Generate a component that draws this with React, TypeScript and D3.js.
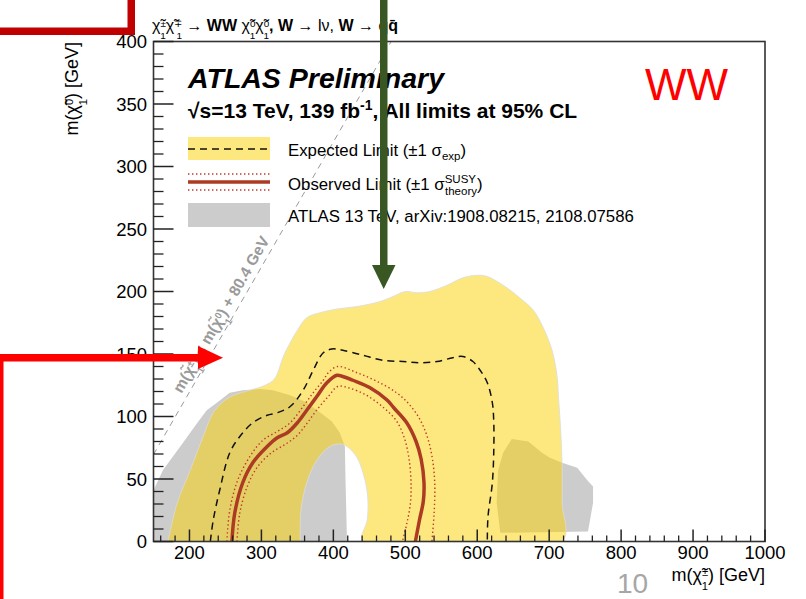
import React from 'react'
import * as d3 from 'd3'

const width = 806
const height = 599
const frame = { left: 153.5, right: 765, top: 41.5, bottom: 541.5 }
const font = 'Liberation Sans, Arial, Helvetica, sans-serif'

// points are [m(chargino), m(neutralino)] in GeV
const expBandOuter: [number, number][] = [
  [170, 0], [183, 31], [201, 57], [219, 84], [233, 103], [247, 112], [261, 117], [284, 121],
  [305, 125], [318, 130], [332, 150], [350, 169], [363, 179], [381, 183], [405, 186], [433, 188],
  [465, 192], [483, 196], [500, 200], [516, 199], [534, 200], [558, 205], [580, 211], [600, 213],
  [614, 212], [636, 205], [659, 195], [678, 185], [691, 172], [704, 153], [711, 132], [713, 115],
  [716, 89], [718, 60], [718, 31], [718, 0],
]
const expBandInner: [number, number][] = [
  [354, 0], [355, 25], [363, 47], [377, 65], [395, 76], [409, 78], [419, 76], [433, 67],
  [444, 49], [448, 33], [447, 17], [441, 0],
]
const expected: [number, number][] = [
  [229, 0], [233, 17], [242, 41], [256, 71], [270, 84], [288, 95], [308, 101], [322, 103],
  [340, 108], [358, 121], [372, 137], [386, 151], [398, 154], [413, 153], [441, 149], [469, 145],
  [497, 144], [520, 143], [544, 144], [566, 147], [580, 148], [594, 144], [604, 137], [614, 127],
  [621, 111], [623, 95], [623, 73], [621, 47], [615, 20], [614, 0],
]
const observed: [number, number][] = [
  [259, 0], [263, 23], [274, 47], [288, 63], [308, 76], [322, 83], [336, 87], [350, 95],
  [363, 105], [377, 116], [391, 127], [405, 133], [413, 132], [427, 129], [451, 123], [475, 113],
  [484, 107], [502, 95], [515, 80], [522, 66], [526, 47], [525, 32], [520, 18], [514, 0],
]
const obsUp: [number, number][] = [
  [252, 0], [256, 25], [267, 49], [284, 68], [302, 81], [322, 88], [340, 95], [358, 108],
  [372, 119], [386, 129], [393, 135], [406, 140], [433, 135], [461, 128], [488, 119], [505, 110],
  [520, 98], [531, 83], [538, 65], [541, 45], [540, 22], [537, 0],
]
const obsDown: [number, number][] = [
  [266, 0], [270, 23], [281, 45], [295, 60], [314, 71], [334, 78], [350, 85], [364, 95],
  [378, 106], [393, 116], [406, 124], [421, 123], [446, 117], [470, 107], [487, 97], [498, 84],
  [505, 67], [508, 47], [507, 30], [502, 14], [496, 0],
]
const prevLeft: [number, number][] = [
  [150, 0], [150, 41], [163, 57], [191, 79], [211, 95], [224, 105], [238, 111], [256, 119],
  [274, 121], [298, 122], [316, 121], [340, 117], [360, 112], [380, 104], [398, 96], [409, 87],
  [416, 76], [417, 47], [419, 0],
]
const prevRight: [number, number][] = [
  [632, 7], [627, 31], [629, 57], [636, 71], [648, 82], [671, 80], [690, 71], [701, 67],
  [718, 63], [739, 59], [753, 49], [761, 44], [761, 31], [754, 8],
]
const xMajor = [200, 300, 400, 500, 600, 700, 800, 900, 1000]
const yMajor = [0, 50, 100, 150, 200, 250, 300, 350, 400]
const wMass = 80.4

const yellow = 'rgb(251,210,6)'
const yellowAlpha = 0.51
const gray = '#cccccc'
const obsColor = '#ad3a22'
const dotColor = '#c2352a'

// chi with tilde, superscript and subscript 1 stacked
function Chi({ sup, size }: { sup: string; size: number }) {
  const small = size * 0.62
  return (
    <>
      <tspan>χ̃</tspan>
      <tspan fontSize={small} baselineShift={size * 0.28}>{sup}</tspan>
      <tspan fontSize={small} dx={-small * 0.57} baselineShift={-size * 0.5}>1</tspan>
    </>
  )
}

export default function App() {
  const x = d3.scaleLinear().domain([150, 1000]).range([frame.left, frame.right])
  const y = d3.scaleLinear().domain([0, 400]).range([frame.bottom, frame.top])

  const smooth = d3
    .line<[number, number]>()
    .x((d) => x(d[0]))
    .y((d) => y(d[1]))
    .curve(d3.curveCatmullRom.alpha(0.5))
  const straight = d3
    .line<[number, number]>()
    .x((d) => x(d[0]))
    .y((d) => y(d[1]))

  const bandPath = smooth([...expBandOuter, ...expBandInner.slice().reverse()]) + 'Z'

  const diagX0 = 150
  const diagX1 = 400 + wMass
  const angle = (Math.atan2(y(100) - y(0), x(250) - x(150)) * 180) / Math.PI
  const lblPt = [x(196), y(196 - wMass)]
  const rad = (angle * Math.PI) / 180
  const off = 6
  const lblX = lblPt[0] + Math.sin(rad) * off
  const lblY = lblPt[1] - Math.cos(rad) * off

  const xMinor = d3.range(160, 1001, 20).filter((v) => v % 100 !== 0)
  const yMinor = d3.range(0, 401, 10).filter((v) => v % 50 !== 0)

  const legX = 188
  const legW = 82

  return (
    <svg
      width={width}
      height={height}
      style={{ position: 'absolute', left: 0, top: 0, background: 'white' }}
      fontFamily={font}
    >
      <defs>
        <clipPath id="plotClip">
          <rect x={frame.left} y={frame.top} width={frame.right - frame.left} height={frame.bottom - frame.top} />
        </clipPath>
      </defs>

      <g clipPath="url(#plotClip)">
        <path d={straight(prevLeft) + 'Z'} fill={gray} />
        <path d={straight(prevRight) + 'Z'} fill={gray} />
        <path d={bandPath} fill={yellow} fillOpacity={yellowAlpha} stroke="#dcdcdc" strokeWidth={0.8} />
        <path d={smooth(expected) || ''} fill="none" stroke="#111" strokeWidth={1.5} strokeDasharray="7 5" />
        <path d={smooth(obsUp) || ''} fill="none" stroke={dotColor} strokeWidth={1.4} strokeDasharray="1.4 2.6" />
        <path d={smooth(obsDown) || ''} fill="none" stroke={dotColor} strokeWidth={1.4} strokeDasharray="1.4 2.6" />
        <path d={smooth(observed) || ''} fill="none" stroke={obsColor} strokeWidth={3.5} />
        <line
          x1={x(diagX0)}
          y1={y(diagX0 - wMass)}
          x2={x(diagX1)}
          y2={y(diagX1 - wMass)}
          stroke="#9a9a9a"
          strokeWidth={1}
          strokeDasharray="6 5"
        />
      </g>

      <text
        transform={`translate(${lblX},${lblY}) rotate(${angle})`}
        fontSize={15.5}
        fontWeight="bold"
        fill="#9a9a9a"
      >
        m(<Chi sup="±" size={15.5} />) &lt; m(<Chi sup="0" size={15.5} />) + 80.4 GeV
      </text>

      {/* frame */}
      <rect
        x={frame.left}
        y={frame.top}
        width={frame.right - frame.left}
        height={frame.bottom - frame.top}
        fill="none"
        stroke="#333"
        strokeWidth={1.6}
      />

      {/* x ticks */}
      {xMajor.map((v) => (
        <g key={'xm' + v}>
          <line x1={x(v)} x2={x(v)} y1={frame.bottom} y2={frame.bottom - 12} stroke="#222" strokeWidth={1.5} />
          <text x={x(v)} y={559} fontSize={18.5} textAnchor="middle">
            {v}
          </text>
        </g>
      ))}
      {xMinor.map((v) => (
        <line key={'xn' + v} x1={x(v)} x2={x(v)} y1={frame.bottom} y2={frame.bottom - 6} stroke="#222" strokeWidth={1.3} />
      ))}

      {/* y ticks */}
      {yMajor.map((v) => (
        <g key={'ym' + v}>
          <line x1={frame.left} x2={frame.left + 20} y1={y(v)} y2={y(v)} stroke="#222" strokeWidth={1.5} />
          <text x={147} y={y(v)} dy="0.36em" fontSize={18.5} textAnchor="end">
            {v}
          </text>
        </g>
      ))}
      {yMinor.map((v) => (
        <line key={'yn' + v} x1={frame.left} x2={frame.left + 10} y1={y(v)} y2={y(v)} stroke="#222" strokeWidth={1.3} />
      ))}

      {/* axis titles */}
      <text x={frame.right} y={581} fontSize={18} textAnchor="end">
        m(<Chi sup="±" size={18} />) [GeV]
      </text>
      <text transform="translate(78,42) rotate(-90)" fontSize={18} textAnchor="end">
        m(<Chi sup="0" size={18} />) [GeV]
      </text>

      {/* process title */}
      <text x={152} y={31} fontSize={16}>
        <Chi sup="±" size={16} />
        <Chi sup="∓" size={16} />
        <tspan> → </tspan>
        <tspan fontWeight="bold">WW </tspan>
        <Chi sup="0" size={16} />
        <Chi sup="0" size={16} />
        <tspan fontWeight="bold">, W</tspan>
        <tspan> → lν, </tspan>
        <tspan fontWeight="bold">W</tspan>
        <tspan> → </tspan>
        <tspan fontWeight="bold">qq̄</tspan>
      </text>

      {/* ATLAS labels */}
      <text x={188} y={88} fontSize={28.5} fontWeight="bold" fontStyle="italic">
        ATLAS Preliminary
      </text>
      <text x={188} y={118} fontSize={21} fontWeight="bold">
        √s=13 TeV, 139 fb<tspan fontSize={14} baselineShift={8}>-1</tspan>, All limits at 95% CL
      </text>

      {/* legend */}
      <rect x={legX} y={137} width={legW} height={23} fill={yellow} fillOpacity={yellowAlpha} />
      <line x1={legX} x2={legX + legW} y1={149} y2={149} stroke="#111" strokeWidth={1.5} strokeDasharray="7 5" />
      <text x={288} y={156} fontSize={16.8}>
        Expected Limit (±1 σ<tspan fontSize={11.5} baselineShift={-4}>exp</tspan>)
      </text>

      <line x1={legX} x2={legX + legW} y1={174} y2={174} stroke={dotColor} strokeWidth={1.4} strokeDasharray="1.4 2.6" />
      <line x1={legX} x2={legX + legW} y1={182} y2={182} stroke={obsColor} strokeWidth={3.5} />
      <line x1={legX} x2={legX + legW} y1={190} y2={190} stroke={dotColor} strokeWidth={1.4} strokeDasharray="1.4 2.6" />
      <text x={288} y={190} fontSize={16.8}>
        Observed Limit (±1 σ
        <tspan fontSize={11.5} baselineShift={7}>SUSY</tspan>
        <tspan fontSize={11.5} dx={-31} baselineShift={-5}>theory</tspan>)
      </text>

      <rect x={legX} y={203} width={legW} height={24} fill={gray} />
      <text x={288} y={222} fontSize={16.8}>
        ATLAS 13 TeV, arXiv:1908.08215, 2108.07586
      </text>

      {/* WW tag and page number */}
      <text x={645} y={100} fontSize={44} fill="#ff0000">
        WW
      </text>
      <text x={617} y={593} fontSize={28} fill="#a6a6a6">
        10
      </text>

      {/* slide annotations */}
      <rect x={0} y={27.5} width={135} height={7.5} fill="#c00000" />
      <rect x={127.5} y={0} width={7.5} height={35} fill="#c00000" />

      <rect x={0} y={354} width={199} height={7.5} fill="#ff0000" />
      <rect x={0} y={354} width={3.5} height={245} fill="#ff0000" />
      <path d="M198,346 L223,357.7 L198,369 Z" fill="#ff0000" />

      <rect x={380} y={0} width={7.5} height={266} fill="#385723" />
      <path d="M372,265 L395.5,265 L383.7,289 Z" fill="#385723" />
    </svg>
  )
}
